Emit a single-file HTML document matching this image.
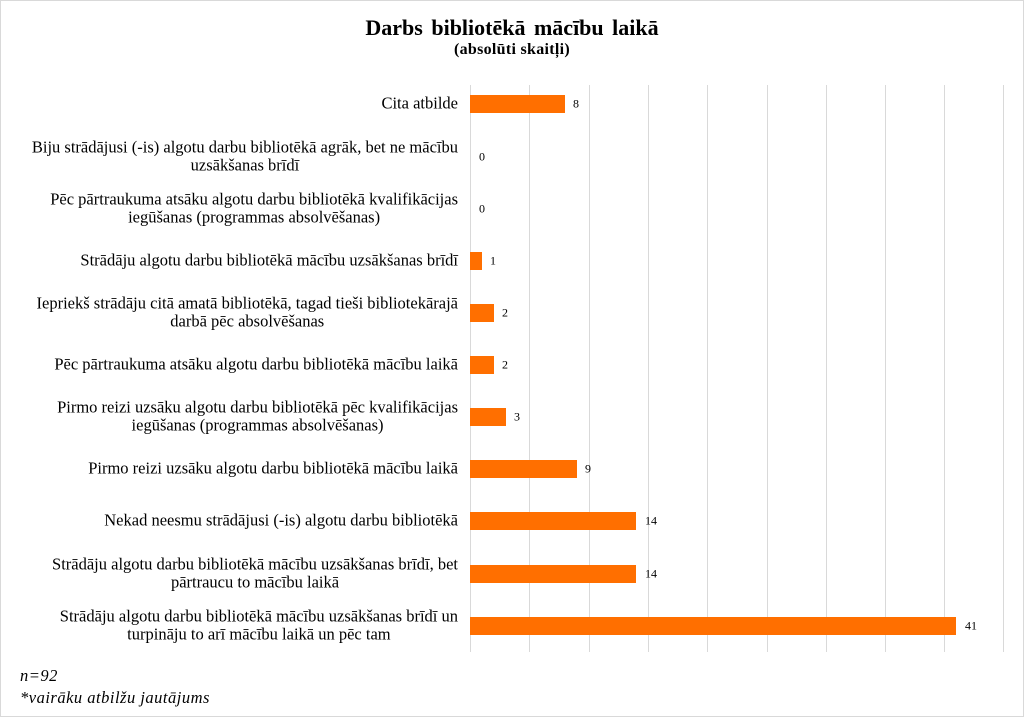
<!DOCTYPE html>
<html><head><meta charset="utf-8"><style>
body{margin:0;width:1024px;height:718px;background:#fff;overflow:hidden;font-family:"Liberation Serif",serif;}
.frame{position:absolute;left:0;top:0;width:1022px;height:715px;border:1px solid #d9d9d9;}
.t{position:absolute;left:0;width:1024px;text-align:center;font-weight:bold;color:#000;white-space:nowrap}
.lw{position:absolute;right:566px;width:470px;text-align:right;transform:translateY(-50%)}
.lab{display:inline-block;text-align:center;font-size:16.5px;line-height:18px;color:#000;white-space:nowrap}
.g{position:absolute;top:85px;height:567px;width:1px;background:#d9d9d9}
.bar{position:absolute;left:470px;height:18px;background:#ff6f00;transform:translateY(-50%)}
.v{position:absolute;font-size:12px;transform:translateY(-50%)}
.n{position:absolute;left:20px;font-style:italic;font-size:16.5px;letter-spacing:0.5px}
</style></head><body>
<div class="frame"></div>
<div class="t" style="top:15px;font-size:22px;word-spacing:3px">Darbs bibliotēkā mācību laikā</div>
<div class="t" style="top:41px;font-size:16px;letter-spacing:0.3px">(absolūti skaitļi)</div>
<div class="g" style="left:470px"></div><div class="g" style="left:529px"></div><div class="g" style="left:589px"></div><div class="g" style="left:648px"></div><div class="g" style="left:707px"></div><div class="g" style="left:767px"></div><div class="g" style="left:826px"></div><div class="g" style="left:885px"></div><div class="g" style="left:944px"></div><div class="g" style="left:1003px"></div>

<div class="lw" style="top:104px"><span class="lab">Cita atbilde</span></div>
<div class="bar" style="top:104px;width:95px"></div><div class="v" style="top:104px;left:573px">8</div>

<div class="lw" style="top:157px"><span class="lab">Biju strādājusi (-is) algotu darbu bibliotēkā agrāk, bet ne mācību<br>uzsākšanas brīdī</span></div>
<div class="v" style="top:157px;left:479px">0</div>

<div class="lw" style="top:209px"><span class="lab">Pēc pārtraukuma atsāku algotu darbu bibliotēkā kvalifikācijas<br>iegūšanas (programmas absolvēšanas)</span></div>
<div class="v" style="top:209px;left:479px">0</div>

<div class="lw" style="top:261px"><span class="lab">Strādāju algotu darbu bibliotēkā mācību uzsākšanas brīdī</span></div>
<div class="bar" style="top:261px;width:12px"></div><div class="v" style="top:261px;left:490px">1</div>

<div class="lw" style="top:313px"><span class="lab">Iepriekš strādāju citā amatā bibliotēkā, tagad tieši bibliotekārajā<br>darbā pēc absolvēšanas</span></div>
<div class="bar" style="top:313px;width:24px"></div><div class="v" style="top:313px;left:502px">2</div>

<div class="lw" style="top:365px"><span class="lab">Pēc pārtraukuma atsāku algotu darbu bibliotēkā mācību laikā</span></div>
<div class="bar" style="top:365px;width:24px"></div><div class="v" style="top:365px;left:502px">2</div>

<div class="lw" style="top:417px"><span class="lab">Pirmo reizi uzsāku algotu darbu bibliotēkā pēc kvalifikācijas<br>iegūšanas (programmas absolvēšanas)</span></div>
<div class="bar" style="top:417px;width:36px"></div><div class="v" style="top:417px;left:514px">3</div>

<div class="lw" style="top:469px"><span class="lab">Pirmo reizi uzsāku algotu darbu bibliotēkā mācību laikā</span></div>
<div class="bar" style="top:469px;width:107px"></div><div class="v" style="top:469px;left:585px">9</div>

<div class="lw" style="top:521px"><span class="lab">Nekad neesmu strādājusi (-is) algotu darbu bibliotēkā</span></div>
<div class="bar" style="top:521px;width:166px"></div><div class="v" style="top:521px;left:645px">14</div>

<div class="lw" style="top:574px"><span class="lab">Strādāju algotu darbu bibliotēkā mācību uzsākšanas brīdī, bet<br>pārtraucu to mācību laikā</span></div>
<div class="bar" style="top:574px;width:166px"></div><div class="v" style="top:574px;left:645px">14</div>

<div class="lw" style="top:626px"><span class="lab">Strādāju algotu darbu bibliotēkā mācību uzsākšanas brīdī un<br>turpināju to arī mācību laikā un pēc tam</span></div>
<div class="bar" style="top:626px;width:486px"></div><div class="v" style="top:626px;left:965px">41</div>

<div class="n" style="top:666px">n=92</div>
<div class="n" style="top:688px">*vairāku atbilžu jautājums</div>
</body></html>
